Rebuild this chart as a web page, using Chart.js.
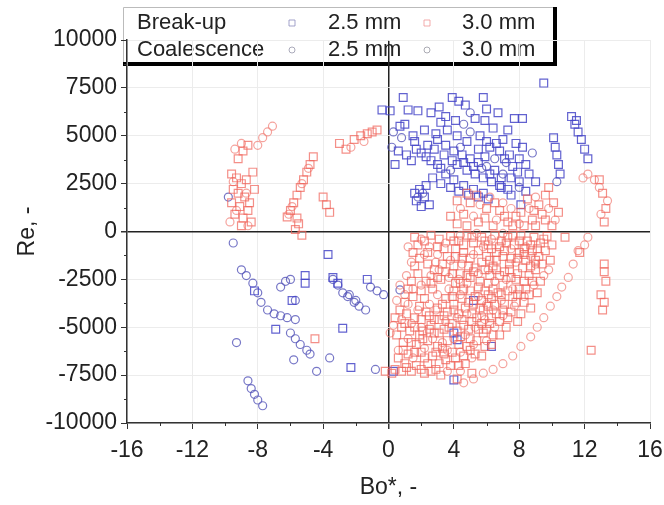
<!DOCTYPE html>
<html>
<head>
<meta charset="utf-8">
<script src="https://cdn.jsdelivr.net/npm/chart.js@4.4.1/dist/chart.umd.min.js"></script>
<style>
  html, body { margin: 0; padding: 0; background: #fff; }
</style>
</head>
<body>
<canvas id="chart" width="664" height="505"></canvas>
<script>
// Axis ticks
const xTicks = [-16, -12, -8, -4, 0, 4, 8, 12, 16];
const yTicks = [-10000, -7500, -5000, -2500, 0, 2500, 5000, 7500, 10000];
const legendRows = ['Break-up', 'Coalescence'];
const sizeLabels = ['2.5 mm', '3.0 mm'];

// Break-up, 2.5 mm (blue squares)
const breakup25 = [
  [-0.4,6350],[0.1,6300],[0.9,7000],[1.2,6350],[0.6,4200],[1.1,4000],[0.4,3500],[1.4,3700],[1.7,4300],[2.0,4100],
  [2.3,3900],[2.6,3700],[3.0,3500],[2.4,4500],[2.8,4300],[3.4,4000],[1.9,2200],[2.2,1800],[1.7,1600],[2.5,1400],
  [2.0,1300],[1.6,2000],[2.3,2400],[1.5,5000],[1.8,6300],[1.0,5600],[1.6,4700],
  [3.9,7000],[4.3,6800],[4.7,6600],[5.3,5900],[4.1,5800],[5.6,5000],[3.5,6000],[3.2,5700],[6.0,6400],[6.7,6200],
  [7.7,5900],[8.2,5900],[5.8,7000],
  [3.0,4800],[3.5,4500],[4.0,4200],[4.5,4000],[5.0,3800],[5.5,3600],[6.5,3200],[7.5,2800],[8.0,2600],[4.2,3500],
  [4.8,3200],[5.3,3000],[5.8,2800],[6.3,2600],[6.8,2400],[7.3,2200],[6.2,4400],[6.8,4200],[7.4,4000],[8.0,3800],
  [8.4,3500],[7.8,4600],[8.2,4400],[5.5,4300],[6.0,4700],[7.0,4800],[3.5,3000],[4.0,2700],[4.6,2400],[5.2,2200],
  [5.8,2000],[7.6,3400],[8.6,3000],[9.0,2600],
  [2.7,2800],[3.2,2500],[3.8,2300],[4.3,2100],[4.9,1900],[5.5,1800],[6.1,1700],[3.2,3300],[3.9,3700],[4.6,3600],
  [5.2,3400],[6.2,3000],[6.9,2800],[7.1,3800],[7.9,3100],[8.4,2100],[5.9,3900],[6.6,4600],[7.3,5300],[6.4,5400],
  [5.9,5800],[4.8,4700],[4.2,5000],[3.6,5300],[2.9,5100],[2.2,5300],[2.6,6200],[3.1,6500],[0.7,5500],
  [9.5,7750],[10.1,4900],[10.2,4400],[10.3,4000],[10.4,3500],[10.5,3000],
  [11.2,6000],[11.4,5600],[11.6,5200],[11.8,4800],[12.0,4300],[12.2,3800],[11.5,5800],
  [5.2,-3600],[4.0,-5300],[4.2,-5650],[6.3,-6000],[4.0,-7750],[6.9,2300],[7.5,1900],[8.1,1400],
  [-3.7,-1200],[-5.1,-2300],[-5.1,-2700],[-3.4,-2400],[-3.1,-2700],[-1.3,-2500],[-5.9,-3600],[-6.9,-5100],
  [-2.8,-5050],[-2.3,-7100],[0.3,-7300],[-8.2,-3100]
];

// Break-up, 3.0 mm (red squares)
const breakup30 = [
  [1.6,-300],[1.8,-700],[1.5,-1100],[1.9,-1400],[1.6,-1800],[1.8,-2200],[1.4,-2600],[1.2,-3000],
  [3.4,-900],[3.6,-1300],[3.3,-1700],[3.5,-2100],[3.2,-2500],
  [2.6,-200],[3.1,-400],[3.8,-250],[4.3,-500],[4.8,-200],[5.2,-600],[5.7,-300],[6.1,-700],[6.5,-200],[6.9,-500],
  [7.3,-300],[7.7,-700],[8.1,-200],[8.5,-500],[8.9,-300],[9.3,-600],[9.7,-250],[4.1,-900],[4.6,-1100],[5.0,-1400],
  [5.5,-1000],[6.0,-1300],[6.6,-1100],[7.1,-1000],[7.5,-1400],[8.0,-1100],[8.4,-1500],[8.8,-1000],[9.2,-1300],
  [9.6,-1000],[10.0,-700],[9.9,-1500],
  [2.4,-1700],[2.8,-2000],[2.3,-2600],[2.7,-3000],[4.0,-1800],[4.4,-2200],[4.1,-2700],[4.6,-3000],[5.0,-2400],
  [5.3,-1900],[5.6,-2600],[5.9,-3100],[6.4,-1800],[6.8,-2300],[7.0,-2800],[7.4,-2000],[7.8,-2500],[8.2,-1900],
  [8.6,-2300],[9.0,-2000],[9.3,-2600],[8.0,-3000],[8.6,-3300],[7.6,-3400],[9.1,-3200],[6.3,-3500],[6.7,-3200],
  [5.3,-3400],[4.9,-3700],[3.9,-3400],[3.3,-3800],[2.2,-3500],[1.9,-3900],
  [1.1,-4300],[1.6,-4500],[2.3,-4200],[2.8,-4600],[3.4,-4400],[4.0,-4100],[4.5,-4600],[5.1,-4300],[5.6,-4000],
  [6.1,-3900],[6.6,-4300],[7.1,-3800],[7.5,-4200],[8.3,-3700],[8.7,-4000],[7.9,-4700],[7.2,-5000],[6.8,-5400],
  [6.2,-4800],[5.8,-5300],[5.4,-5700],[4.9,-5100],[4.2,-5200],[3.7,-5000],[3.1,-5300],[2.5,-5100],[1.9,-5400],
  [1.3,-5200],[0.8,-5000],[0.5,-5400],[0.9,-5800],[1.7,-5900],[2.4,-5700],[3.0,-6000],[3.6,-5700],[4.3,-5900],
  [5.0,-6200],[6.3,-5900],[5.7,-6500],
  [1.2,-6400],[2.0,-6300],[2.7,-6500],[3.4,-6400],[4.1,-6600],[4.7,-6900],[3.8,-7000],[3.1,-6900],[2.4,-6900],
  [1.7,-7000],[1.0,-6900],[0.4,-7200],[-0.2,-7300],[0.2,-7400],[0.8,-7300],[1.4,-7300],[2.0,-7200],[2.6,-7300],
  [3.2,-7500],[4.2,-7700],[5.1,-7400],
  [5.1,-300],[5.9,-500],[6.3,-900],[6.8,-800],[7.2,-600],[7.6,-200],[8.0,-500],[8.3,-900],[8.7,-700],[9.1,-900],
  [9.5,-400],[6.2,-1500],[6.6,-1500],[7.0,-1300],[7.4,-1700],[7.9,-1400],[8.3,-1200],[8.7,-1800],[9.0,-1500],
  [9.4,-1700],[5.7,-1600],[5.9,-2000],[6.2,-2300],[6.6,-2000],[7.1,-2100],[7.5,-2400],[7.9,-2200],[8.3,-2600],
  [8.8,-2600],[7.3,-3100],[7.9,-3300],[8.4,-3000],[6.9,-3300],[6.5,-3800],[7.0,-4100],[7.8,-3700],[8.1,-4300],
  [7.3,-4500],[6.8,-4700],[6.3,-4500],[5.8,-4100],[5.4,-4500],[5.7,-4800],[5.1,-4700],[4.6,-4900],[4.4,-5500],
  [5.0,-5600],[5.5,-5100],[6.0,-5100],[6.4,-5400],[5.9,-6000],[5.3,-6400],[4.8,-6000],[4.6,-6500],[3.9,-6300],
  [3.3,-6100],[2.9,-6300],[2.2,-6600],[1.6,-6300],[3.5,-6700],[4.3,-7000],[2.9,-7200],[2.2,-7400],[1.1,-7100],
  [0.6,-6600],[0.9,-6200],[1.4,-5800],[2.1,-5600],[2.8,-5300],[3.4,-5100],[3.9,-4800],[4.3,-4300],[4.7,-4000],
  [5.2,-3800],[5.7,-3600],[6.1,-3300],[6.4,-3000],[6.1,-2700],[5.5,-2900],[5.0,-3100],[4.5,-3500],[4.0,-3800],
  [3.6,-4200],[3.1,-4600],[2.6,-4900],[2.1,-5200],[1.6,-5000],[1.0,-4800],[2.0,-4600],[2.5,-4400],[3.0,-4000],
  [3.5,-3500],[4.0,-3100],[4.4,-2700],[4.8,-2300],[5.2,-2100],[4.9,-1800],[4.5,-1400],[4.1,-1300],[3.9,-2200],
  [3.0,-2400],[2.6,-2700],[2.0,-3100],[1.5,-3400],[1.0,-3700],[0.7,-4100],[0.4,-4500],[3.0,-800],[2.4,-1100],
  [2.2,-500],[4.0,-500],[4.6,-700],
  [13.2,-1700],[13.2,-2100],[13.3,-2600],[13.0,-3300],[13.2,-3700],[13.1,-4100],[12.4,-6200],[11.7,-1100],[10.8,-300],
  [4.2,400],[4.6,900],[5.0,1500],[5.4,1900],[5.9,700],[6.4,300],[6.8,1100],[7.3,500],[7.8,800],[8.3,300],
  [8.8,600],[9.2,1400],[9.6,1900],[9.4,900],[10.0,300],[13.1,2000],[13.3,1200],[13.2,500],[12.9,2700],
  [4.8,300],[5.5,500],[6.0,1200],[6.5,1500],[7.1,800],[7.6,300],[8.1,1000],[8.5,1700],[9.0,300],[9.6,600],
  [10.1,1500],[9.8,2300],[10.4,1000],[8.9,1100],[3.8,800],[4.2,1600],[4.8,2000],
  [-9.6,3000],[-9.3,2800],[-9.0,2500],[-9.5,2200],[-9.2,2000],[-8.8,1800],[-9.6,1500],[-9.1,1300],[-8.6,1100],
  [-9.4,900],[-8.9,700],[-8.4,500],[-9.0,300],[-8.5,1500],[-8.2,2200],[-8.7,2700],[-8.3,3100],
  [-9.2,3800],[-8.9,4200],[-8.6,4500],
  [-4.6,3900],[-4.8,3500],[-5.0,3100],[-5.2,2700],[-5.4,2300],[-5.6,1900],[-5.8,1500],[-6.0,1100],[-6.2,760],
  [-5.6,700],[-5.5,400],[-5.7,100],[-5.3,-200],
  [-3.0,4600],[-2.6,4300],[-2.1,4800],[-1.7,5000],[-1.3,5100],[-1.0,5200],[-0.7,5300],
  [-4.0,1800],[-3.8,1400],[-3.6,1000],[-4.5,-5600]
];

// Coalescence, 2.5 mm (blue circles)
const coal25 = [
  [-9.5,-600],[-9.0,-2000],[-8.7,-2300],[-8.3,-2700],[-8.0,-3200],[-7.8,-3700],[-7.4,-4100],[-7.0,-4300],
  [-6.6,-4400],[-6.2,-4500],[-5.7,-4600],[-6.6,-2900],[-6.3,-2600],[-6.0,-2500],[-5.7,-3600],[-3.4,-2500],
  [-3.1,-2800],[-2.8,-3200],[-2.5,-3400],[-2.1,-3700],[-1.8,-3900],[-1.4,-4100],[-1.1,-2900],[-0.7,-3100],
  [-0.3,-3300],[0.7,-3050],[-9.3,-5800],[-6.0,-5300],[-5.7,-5600],[-5.4,-5900],[-5.0,-6200],[-4.8,-6400],
  [-5.8,-6700],[-3.6,-6600],[-4.4,-7300],[-0.8,-7200],[-8.6,-7800],[-8.4,-8200],[-8.2,-8500],[-8.0,-8800],
  [-7.7,-9100],[-9.8,1800],[-2.0,-3600],[-2.4,-3300],
  [0.3,5200],[0.8,4900],[0.2,4400],[4.6,5600],[5.0,5200],[5.0,6200],[6.0,3400],[7.0,3000],[10.3,2600],
  [1.8,1800],[2.1,2000],[6.5,3800],[5.7,3300],[4.4,4400],[7.2,3600],[3.8,3200],[8.8,4100],[8.0,2300]
];

// Coalescence, 3.0 mm (red circles)
const coal30 = [
  [11.6,-1000],[11.3,-1700],[11.0,-2400],[10.6,-2900],[10.3,-3400],[9.9,-3900],[9.5,-4500],[9.1,-5000],
  [8.7,-5500],[8.1,-6000],[7.6,-6500],[7.0,-6900],[6.4,-7200],[5.8,-7400],[5.2,-7700],[4.6,-7900],
  [12.2,-300],[12.0,-700],[12.2,3000],[12.6,2700],[12.9,2300],[11.9,2800],
  [2.0,-400],[2.5,-800],[3.0,-1200],[3.8,-1500],[4.5,-1700],[5.2,-1200],[5.8,-800],[6.3,-400],[7.0,-100],
  [7.8,-1600],[8.4,-800],[9.0,-1700],[9.5,-2300],[8.9,-2800],[8.3,-3400],[7.7,-3900],[7.0,-4400],[6.4,-4100],
  [5.9,-4600],[5.3,-5000],[4.7,-5400],[4.0,-5600],[3.3,-5800],[2.7,-5600],[2.0,-5000],[1.4,-4800],[0.8,-4600],
  [0.3,-4900],[0.1,-5300],[0.6,-6200],[1.5,-6600],[2.2,-6100],[3.6,-6200],[4.4,-6300],[5.1,-6600],[4.4,-7300],
  [3.6,-7300],[0.5,-3600],[1.0,-3300],[1.5,-3000],[2.0,-2800],[2.6,-2300],[3.1,-2000],[3.7,-2400],[4.3,-2500],
  [4.8,-2700],[5.5,-2200],[6.1,-2000],[6.5,-2600],[7.2,-2500],[7.6,-3000],[6.9,-3600],[6.0,-3800],[5.5,-3400],
  [4.4,-3300],[3.7,-3000],[3.0,-3300],[2.5,-3800],[2.9,-4100],[3.5,-4700],[4.2,-4500],[4.8,-4300],[5.7,-4400],
  [6.5,-5000],[6.0,-5700],[5.2,-5900],[1.2,-5600],[1.8,-4100],[1.2,-3800],[0.7,-2800],[1.1,-2300],[1.4,-1600],
  [1.2,-800],[2.2,-1200],[2.9,-1600],[3.5,-600],[4.4,-200],[5.4,-100],[7.5,-900],[8.7,-1300],[9.8,-2000],
  [-8.0,4500],[-7.7,4900],[-7.4,5200],[-7.1,5500],[-9.4,4300],[-9.0,4600],
  [-9.5,2600],[-8.7,2000],[-9.3,1100],[-8.6,300],[-9.7,500],
  [-4.9,3300],[-5.3,2500],[-5.9,1300],[-6.1,900],[-1.5,4700],[-2.3,4400],
  [4.4,1200],[5.2,800],[5.6,1400],[6.2,1800],[6.6,600],[7.0,1500],[7.5,1200],[8.0,400],[8.6,1200],
  [9.0,1800],[9.8,1200],[10.2,600],[13.0,900],[13.4,1600]
];

const FONT = "'Liberation Sans', Arial, sans-serif";
const toXY = arr => arr.map(p => ({ x: p[0], y: p[1] }));

function makeSet(label, row, col, data, color, legendColor, style) {
  return {
    label: label,
    legendRow: row,
    legendCol: col,
    legendColor: legendColor,
    data: toXY(data),
    pointStyle: style,
    pointRadius: style === 'rect' ? 5.5 : 4,
    pointBorderWidth: 1.2,
    borderColor: color,
    backgroundColor: 'rgba(0,0,0,0)',
    pointHoverRadius: 5
  };
}

// Legend box, drawn before the grid so the zero line runs over it
const boxLegend = {
  id: 'boxLegend',
  beforeDraw(chart) {
    const ctx = chart.ctx;
    const L = 123, T = 7, R = 555, B = 64;
    ctx.save();
    ctx.fillStyle = '#fff';
    ctx.fillRect(L, T, R - L, B - T);
    ctx.strokeStyle = '#bbb';
    ctx.lineWidth = 1;
    ctx.beginPath();
    ctx.moveTo(L + 0.5, B); ctx.lineTo(L + 0.5, T + 0.5); ctx.lineTo(R, T + 0.5);
    ctx.stroke();
    ctx.strokeStyle = '#000';
    ctx.lineWidth = 4;
    ctx.beginPath();
    ctx.moveTo(L, B); ctx.lineTo(R, B); ctx.lineTo(R, T);
    ctx.stroke();

    ctx.font = '22px ' + FONT;
    ctx.fillStyle = '#222';
    ctx.textBaseline = 'middle';
    const rowY = [23, 50];
    const markX = [292, 427];
    const textX = [328, 462];
    legendRows.forEach((r, i) => ctx.fillText(r, 137, rowY[i]));
    chart.data.datasets.forEach(ds => {
      const y = rowY[ds.legendRow];
      const mx = markX[ds.legendCol];
      ctx.fillStyle = '#222';
      ctx.fillText(sizeLabels[ds.legendCol], textX[ds.legendCol], y);
      ctx.strokeStyle = ds.legendColor;
      ctx.lineWidth = 1;
      ctx.beginPath();
      if (ds.pointStyle === 'rect') ctx.rect(mx - 3, y - 3, 6, 6);
      else ctx.arc(mx, y, 3, 0, Math.PI * 2);
      ctx.stroke();
    });
    ctx.restore();
  },
  afterDraw(chart) {
    // minor ticks
    const ctx = chart.ctx;
    const xs = chart.scales.x, ys = chart.scales.y;
    ctx.save();
    ctx.strokeStyle = '#333';
    ctx.lineWidth = 1;
    ctx.beginPath();
    for (let i = 0; i < xTicks.length - 1; i++) {
      const px = Math.round(xs.getPixelForValue((xTicks[i] + xTicks[i + 1]) / 2)) + 0.5;
      ctx.moveTo(px, ys.bottom); ctx.lineTo(px, ys.bottom + 3);
    }
    for (let i = 0; i < yTicks.length - 1; i++) {
      const py = Math.round(ys.getPixelForValue((yTicks[i] + yTicks[i + 1]) / 2)) + 0.5;
      ctx.moveTo(xs.left, py); ctx.lineTo(xs.left - 3, py);
    }
    ctx.stroke();
    ctx.restore();
  }
};

const gridColor = c => (c.tick && c.tick.value === 0) ? '#222' : '#ececec';
const gridWidth = c => (c.tick && c.tick.value === 0) ? 1.5 : 1;

new Chart(document.getElementById('chart').getContext('2d'), {
  type: 'scatter',
  data: {
    datasets: [
      makeSet('Break-up 3.0 mm', 0, 1, breakup30, 'rgba(240,100,90,0.72)', 'rgba(240,150,150,0.8)', 'rect'),
      makeSet('Coalescence 3.0 mm', 1, 1, coal30, 'rgba(240,120,110,0.68)', 'rgba(150,150,160,0.8)', 'circle'),
      makeSet('Break-up 2.5 mm', 0, 0, breakup25, 'rgba(70,70,200,0.85)', 'rgba(140,140,190,0.8)', 'rect'),
      makeSet('Coalescence 2.5 mm', 1, 0, coal25, 'rgba(85,85,185,0.8)', 'rgba(150,150,170,0.8)', 'circle')
    ]
  },
  options: {
    responsive: false,
    animation: false,
    devicePixelRatio: 1,
    layout: { padding: { left: 0, top: 40, right: 2, bottom: 0 } },
    plugins: {
      legend: { display: false },
      tooltip: { enabled: false }
    },
    scales: {
      x: {
        type: 'linear',
        min: -16, max: 16,
        afterBuildTicks: s => { s.ticks = xTicks.map(v => ({ value: v })); },
        afterFit: s => { s.height = 82; s.paddingLeft = 0; s.paddingRight = 14; },
        ticks: { color: '#222', font: { size: 23, family: FONT }, padding: 8, maxRotation: 0,
                 callback: v => String(v) },
        grid: { color: gridColor, lineWidth: gridWidth, tickColor: '#333', tickLength: 6 },
        border: { color: '#333', width: 1.5 },
        title: { display: true, text: 'Bo*, -', color: '#222', font: { size: 23, family: FONT }, padding: { top: 0, bottom: 4 } }
      },
      y: {
        type: 'linear',
        min: -10000, max: 10000,
        afterBuildTicks: s => { s.ticks = yTicks.map(v => ({ value: v })); },
        afterFit: s => { s.width = 127; },
        ticks: { color: '#222', font: { size: 23, family: FONT }, padding: 4,
                 callback: v => String(v) },
        grid: { color: gridColor, lineWidth: gridWidth, tickColor: '#333', tickLength: 6 },
        border: { color: '#333', width: 1.5 },
        title: { display: true, text: 'Re, -', color: '#222', font: { size: 23, family: FONT }, padding: { top: 14, bottom: 0 } }
      }
    }
  },
  plugins: [boxLegend]
});
</script>
</body>
</html>
